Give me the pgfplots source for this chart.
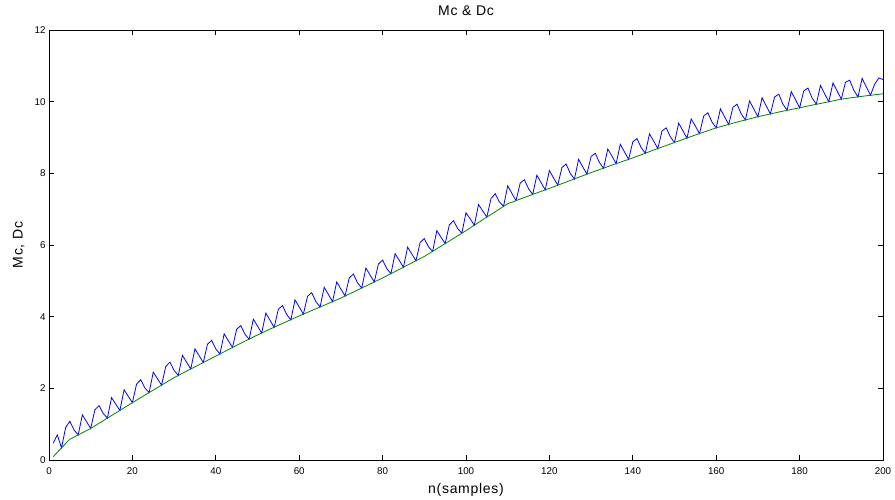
\documentclass[border=0pt]{standalone}
\usepackage{pgfplots}
\pgfplotsset{compat=1.18}
\usepackage{fontspec}
\setmainfont{Liberation Sans}
\newfontfamily\labelfont[LetterSpace=5]{Liberation Sans}
\begin{document}
\begin{tikzpicture}
\useasboundingbox (-49pt,-39pt) rectangle (846pt,460pt);
\begin{axis}[
  at={(0pt,0pt)}, anchor=origin,
  scale only axis, width=834pt, height=430pt,
  xmin=0, xmax=200, ymin=0, ymax=12,
  xtick={0,20,...,200}, ytick={0,2,...,12},
  tick pos=both, tick align=inside,
  major tick length=5pt,
  axis line style={line width=0.8pt},
  tick style={line width=0.8pt, black},
  /pgf/number format/assume math mode=true,
  ticklabel style={font=\fontsize{9.8}{11}\selectfont},
  xticklabel style={yshift=-4pt},
  title={\labelfont Mc \& Dc},
  title style={font=\fontsize{14}{16}\selectfont, at={(axis description cs:0.5,1.0209)}, anchor=base, inner sep=0pt},
  xlabel={\labelfont n(samples)},
  xlabel style={font=\fontsize{14}{16}\selectfont, at={(axis description cs:0.5,-0.0775)}, anchor=base, inner sep=0pt},
  ylabel={\labelfont Mc, Dc},
  ylabel style={font=\fontsize{14}{16}\selectfont, at={(axis description cs:-0.0315,0.5)}, anchor=base, inner sep=0pt},
]
\addplot[color={rgb,255:red,0;green,0;blue,255}, line width=0.8pt] table {
x y
1 0.47
2 0.70
3 0.34
4 0.91
5 1.08
6 0.84
7 0.70
8 1.26
9 1.07
10 0.88
11 1.40
12 1.52
13 1.30
14 1.17
15 1.74
16 1.56
17 1.38
18 1.96
19 1.78
20 1.60
21 2.12
22 2.24
23 2.01
24 1.88
25 2.45
26 2.27
27 2.09
28 2.61
29 2.73
30 2.50
31 2.36
32 2.92
33 2.73
34 2.54
35 3.10
36 2.91
37 2.72
38 3.23
39 3.34
40 3.10
41 2.96
42 3.52
43 3.33
44 3.14
45 3.65
46 3.75
47 3.51
48 3.37
49 3.93
50 3.74
51 3.54
52 4.10
53 3.90
54 3.70
55 4.21
56 4.31
57 4.06
58 3.91
59 4.47
60 4.27
61 4.07
62 4.57
63 4.67
64 4.42
65 4.27
66 4.82
67 4.62
68 4.42
69 4.97
70 4.77
71 4.58
72 5.08
73 5.19
74 4.94
75 4.80
76 5.36
77 5.16
78 4.97
79 5.47
80 5.58
81 5.34
82 5.20
83 5.76
84 5.57
85 5.38
86 5.94
87 5.75
88 5.56
89 6.07
90 6.18
91 5.95
92 5.82
93 6.40
94 6.22
95 6.04
96 6.56
97 6.68
98 6.46
99 6.33
100 6.90
101 6.73
102 6.55
103 7.13
104 6.95
105 6.78
106 7.30
107 7.43
108 7.20
109 7.08
110 7.65
111 7.44
112 7.24
113 7.73
114 7.82
115 7.57
116 7.41
117 7.95
118 7.74
119 7.54
120 8.08
121 7.87
122 7.67
123 8.16
124 8.26
125 8.00
126 7.84
127 8.39
128 8.18
129 7.98
130 8.47
131 8.56
132 8.30
133 8.14
134 8.68
135 8.48
136 8.27
137 8.81
138 8.60
139 8.39
140 8.88
141 8.97
142 8.72
143 8.56
144 9.10
145 8.90
146 8.69
147 9.18
148 9.27
149 9.02
150 8.86
151 9.40
152 9.19
153 8.98
154 9.52
155 9.32
156 9.11
157 9.60
158 9.69
159 9.43
160 9.27
161 9.80
162 9.58
163 9.36
164 9.84
165 9.93
166 9.66
167 9.49
168 10.02
169 9.80
170 9.58
171 10.11
172 9.88
173 9.66
174 10.13
175 10.21
176 9.93
177 9.76
178 10.28
179 10.06
180 9.83
181 10.30
182 10.38
183 10.10
184 9.93
185 10.45
186 10.22
187 10.00
188 10.52
189 10.30
190 10.07
191 10.54
192 10.60
193 10.32
194 10.13
195 10.65
196 10.41
197 10.18
198 10.49
199 10.66
200 10.62
};
\addplot[color={rgb,255:red,0;green,128;blue,0}, line width=0.8pt] table {
x y
1 0.09
3 0.34
5 0.58
10 0.88
15 1.24
20 1.60
25 1.95
30 2.30
35 2.60
40 2.90
45 3.20
50 3.49
55 3.76
60 4.02
65 4.27
70 4.52
75 4.80
80 5.08
85 5.38
90 5.68
95 6.04
100 6.40
105 6.78
110 7.15
115 7.37
120 7.58
125 7.80
130 8.02
135 8.23
140 8.43
145 8.65
150 8.86
155 9.07
160 9.27
165 9.43
170 9.58
175 9.71
180 9.83
185 9.95
190 10.07
195 10.15
200 10.22
};
\end{axis}
\end{tikzpicture}
\end{document}
